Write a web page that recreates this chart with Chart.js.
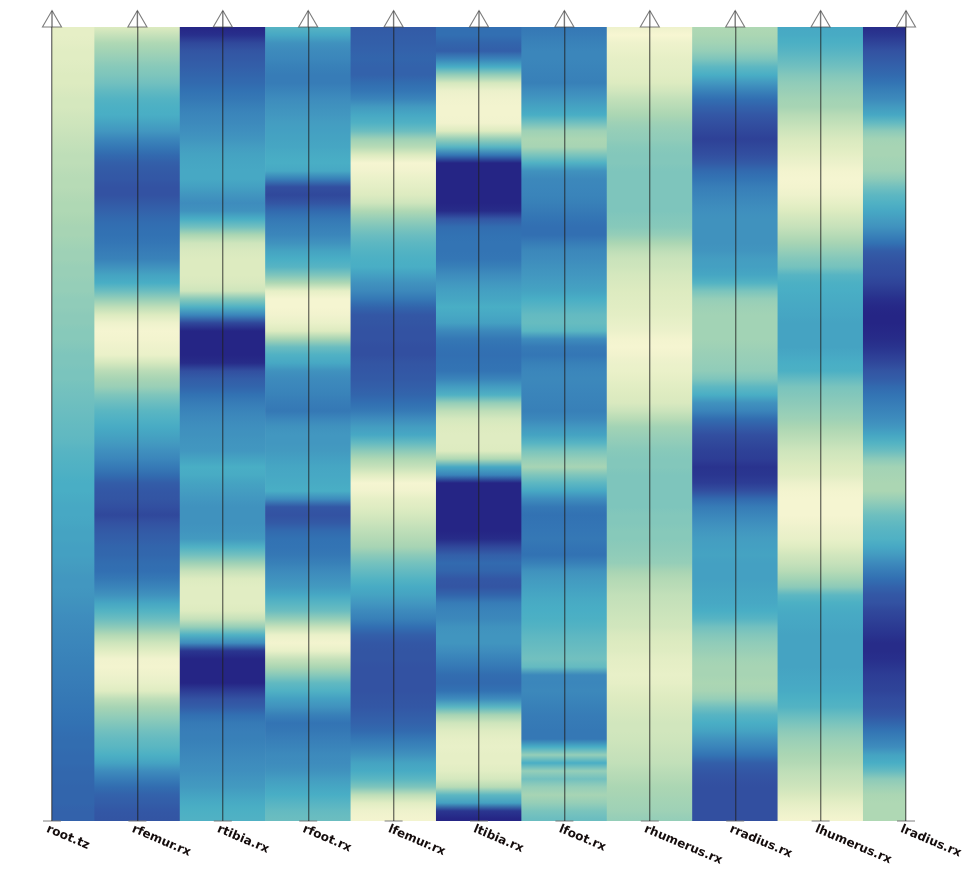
<!DOCTYPE html>
<html>
<head>
<meta charset="utf-8">
<style>
  html, body { margin: 0; background: #fff; }
  canvas { display: block; filter: blur(0.45px); }
</style>
<script src="https://cdn.jsdelivr.net/npm/chart.js@4"></script>
</head>
<body>
<canvas id="chart" width="964" height="869"></canvas>
<script>
const channels = ['root.tz', 'rfemur.rx', 'rtibia.rx', 'rfoot.rx', 'lfemur.rx', 'ltibia.rx', 'lfoot.rx', 'rhumerus.rx', 'rradius.rx', 'lhumerus.rx', 'lradius.rx'];

// one level per frame, top to bottom (0 = palest, 100 = darkest)
const rootTz = [8,8,9,10,10,11,12,12,13,14, 14,15,16,17,18,19,20,20,21,22, 22,23,24,24,25,26,26,27,28,28, 29,29,30,30,31,31,32,32,33,33, 34,35,35,36,36,37,38,39,40,41, 42,43,44,46,47,48,49,50,50,51, 52,52,53,54,54,55,55,56,57,58, 58,59,60,61,62,63,64,65,66,67, 68,69,70,71,72,73,74,75,76,77, 77,78,78,79,79,80,80,80,81,81];
const rfemurRx = [12,18,24,27,30,33,35,38,43,47, 49,50,54,58,65,72,78,82,84,85, 87,87,84,81,78,76,75,73,70,67, 60,54,50,40,30,20,12,4,1,2, 4,6,14,21,26,29,35,40,45,48, 51,54,57,61,65,71,77,83,85,86, 88,90,87,84,82,80,79,77,76,72, 66,60,53,47,40,32,23,16,10,3, 2,4,7,11,20,26,30,34,38,42, 45,49,54,62,70,77,81,83,85,86];
const rtibiaRx = [100,97,90,86,84,82,80,78,75,72, 68,65,63,61,59,56,54,53,52,52, 55,59,62,60,50,38,25,16,13,12, 12,12,13,16,33,48,65,90,100,100, 100,100,98,88,83,80,75,70,66,63, 61,60,59,58,54,50,51,54,56,58, 60,60,60,59,57,48,38,28,18,12, 10,10,10,12,18,30,48,62,95,100, 100,100,100,93,87,83,76,71,69,68, 66,64,62,61,59,57,54,51,49,48];
const rfootRx = [46,52,60,63,65,68,70,70,66,62, 60,58,56,55,54,53,51,50,52,68, 88,90,86,78,72,68,65,60,54,50, 46,35,24,8,1,1,3,6,12,26, 40,48,52,60,63,65,67,70,72,65, 60,58,58,57,55,53,52,51,50,62, 85,87,84,78,75,74,72,68,63,60, 57,52,46,40,30,18,6,2,7,18, 25,33,43,48,55,60,68,74,72,69, 66,63,62,60,56,53,50,46,42,40];
const lfemurRx = [84,83,82,81,80,81,81,77,73,66, 57,52,48,40,28,22,12,1,3,6, 9,12,16,24,30,35,40,44,47,49, 50,55,60,64,72,80,85,86,87,87, 88,88,86,85,84,82,80,76,71,62, 56,52,42,32,24,18,10,1,3,8, 11,14,17,20,23,26,32,37,42,47, 51,54,58,63,68,76,82,85,86,86, 87,87,87,87,86,85,83,81,78,72, 66,60,54,51,45,35,20,10,4,2];
const ltibiaRx = [76,76,80,82,66,50,30,14,5,3, 2,2,3,12,30,46,72,100,100,100, 100,100,100,98,85,77,75,74,74,73, 68,62,58,55,53,50,52,55,64,72, 75,76,75,74,66,56,48,30,20,14, 12,11,11,12,24,52,66,100,100,100, 100,100,100,100,98,90,82,78,80,85, 86,80,70,66,64,60,59,59,62,67, 72,77,78,75,62,45,26,16,11,8, 7,8,8,10,14,22,44,55,95,100];
const lfootRx = [72,70,67,65,65,66,67,68,62,58, 54,50,38,28,25,26,36,48,60,64, 65,66,68,71,74,76,76,70,64,62, 60,58,56,54,50,46,42,41,45,62, 71,73,68,65,64,65,66,67,68,64, 58,54,46,36,30,26,35,44,52,62, 72,75,74,73,72,74,75,68,60,57, 55,53,51,50,49,47,44,42,40,38, 42,64,65,64,66,68,70,71,72,72, 50,30,50,30,38,30,26,30,36,40];
const rhumerusRx = [4,0,4,6,8,9,10,12,15,19, 22,25,28,30,31,33,34,34,35,35, 35,35,35,35,34,33,30,25,20,17, 16,14,13,12,11,10,9,7,5,2, 1,3,5,6,8,10,12,13,17,22, 27,29,31,33,34,34,35,35,35,35, 35,34,34,33,33,32,31,30,26,23, 21,19,18,17,16,15,13,12,11,9, 8,7,8,10,12,13,14,15,15,16, 17,18,19,21,23,25,26,27,28,30];
const rradiusRx = [24,25,27,30,35,44,50,58,67,76, 81,85,88,90,92,90,88,84,78,74, 69,66,63,61,60,60,60,60,59,56, 55,53,47,36,30,28,27,27,27,27, 28,29,30,31,35,44,50,60,66,77, 83,88,90,92,93,96,95,93,88,78, 70,65,61,58,56,55,54,55,55,55, 54,53,52,50,46,38,34,31,29,27, 26,26,25,26,30,38,46,50,54,60, 66,74,82,85,87,88,88,88,88,88];
const lhumerusRx = [52,51,49,46,42,38,34,31,29,27, 26,22,19,16,13,11,8,5,2,1, 2,4,8,12,15,18,22,26,30,34, 37,46,49,50,51,52,53,54,54,54, 54,52,50,49,42,36,34,32,30,28, 25,22,19,16,14,12,10,5,2,1, 1,1,3,5,7,11,15,18,22,27, 32,44,49,51,52,53,54,54,54,54, 54,53,52,51,49,47,41,36,32,29, 27,25,23,20,18,16,13,9,5,2];
const lradiusRx = [98,95,91,87,84,81,78,74,68,63, 57,52,42,32,27,26,26,27,28,32, 38,44,48,52,56,60,67,75,83,86, 88,89,91,94,97,99,100,100,99,98, 96,93,90,86,83,78,74,70,66,62, 58,53,47,40,32,27,26,25,25,29, 34,39,43,46,48,52,57,63,70,76, 81,85,87,90,92,94,96,98,98,97, 95,93,92,91,89,88,85,80,74,68, 62,54,50,42,32,28,25,24,24,24];

const columns = [rootTz, rfemurRx, rtibiaRx, rfootRx, lfemurRx, ltibiaRx, lfootRx, rhumerusRx, rradiusRx, lhumerusRx, lradiusRx];

// colour ramp for the levels
const rampLevels = [0, 12, 25, 37, 50, 62, 75, 87, 100];
const rampColors = [[247,246,210],[221,235,192],[171,214,179],[117,194,190],[73,174,197],[62,140,189],[50,114,179],[51,82,162],[37,37,133]];

function levelColor(level) {
  let i = 0;
  while (i < rampLevels.length - 2 && level > rampLevels[i + 1]) i++;
  const t = (level - rampLevels[i]) / (rampLevels[i + 1] - rampLevels[i]);
  const c = rampColors[i].map((v, k) => Math.round(v + (rampColors[i + 1][k] - v) * t));
  return `rgb(${c[0]},${c[1]},${c[2]})`;
}

const lastFrame = 99.25;

function columnFill(context) {
  const chart = context.chart;
  if (!chart.chartArea) return '#3e8cbd';
  const y = chart.scales.y;
  const top = y.getPixelForValue(0);
  const bottom = y.getPixelForValue(lastFrame);
  const gradient = chart.ctx.createLinearGradient(0, top, 0, bottom);
  columns[context.dataIndex].forEach((level, frame) => {
    gradient.addColorStop(Math.min(1, frame / lastFrame), levelColor(level));
  });
  return gradient;
}

new Chart(document.getElementById('chart'), {
  data: {
    labels: channels,
    datasets: [
      {
        // arrow heads on top of the axes
        type: 'line',
        data: channels.map(() => -0.69),
        showLine: false,
        clip: false,
        pointStyle: 'triangle',
        pointRadius: 11,
        pointBackgroundColor: 'rgba(255,255,255,0)',
        pointBorderColor: 'rgba(70,70,70,0.7)',
        pointBorderWidth: 1.1,
        order: 0
      },
      {
        // axis lines carried on up into the arrow heads
        type: 'line',
        data: channels.map(() => -1),
        showLine: false,
        clip: false,
        pointStyle: 'line',
        pointRotation: 90,
        pointRadius: 8,
        pointBorderColor: 'rgba(30,30,30,0.6)',
        pointBorderWidth: 1.4,
        order: 0
      },
      {
        // small marks at the foot of the axes
        type: 'line',
        data: channels.map(() => lastFrame),
        showLine: false,
        clip: false,
        pointStyle: 'line',
        pointRadius: 9,
        pointBorderColor: 'rgba(110,110,110,0.45)',
        pointBorderWidth: 2,
        order: 0
      },
      {
        type: 'bar',
        data: channels.map(() => [0, lastFrame]),
        backgroundColor: columnFill,
        barPercentage: 1,
        categoryPercentage: 1,
        order: 1
      }
    ]
  },
  options: {
    responsive: false,
    animation: false,
    layout: { padding: { left: 52, right: 58, top: 27, bottom: 0 } },
    plugins: { legend: { display: false }, tooltip: { enabled: false } },
    scales: {
      x: {
        offset: false,
        border: { display: false },
        grid: { offset: false, color: 'rgba(30,30,30,0.6)', lineWidth: 1.4, tickLength: 0, z: 1 },
        ticks: {
          autoSkip: false,
          minRotation: -23,
          maxRotation: -23,
          padding: 1,
          labelOffset: -5,
          color: '#140c0c',
          font: { family: 'DejaVu Sans', size: 12, weight: 'bold' }
        },
        afterFit(scale) {
          scale.height = 48;
          scale.paddingLeft = 0;
          scale.paddingRight = 0;
          // labels hang down to the right of their axis
          scale._getXAxisLabelAlignment = () => 'left';
        }
      },
      y: { display: false, reverse: true, min: 0, max: lastFrame }
    }
  }
});
</script>
</body>
</html>
